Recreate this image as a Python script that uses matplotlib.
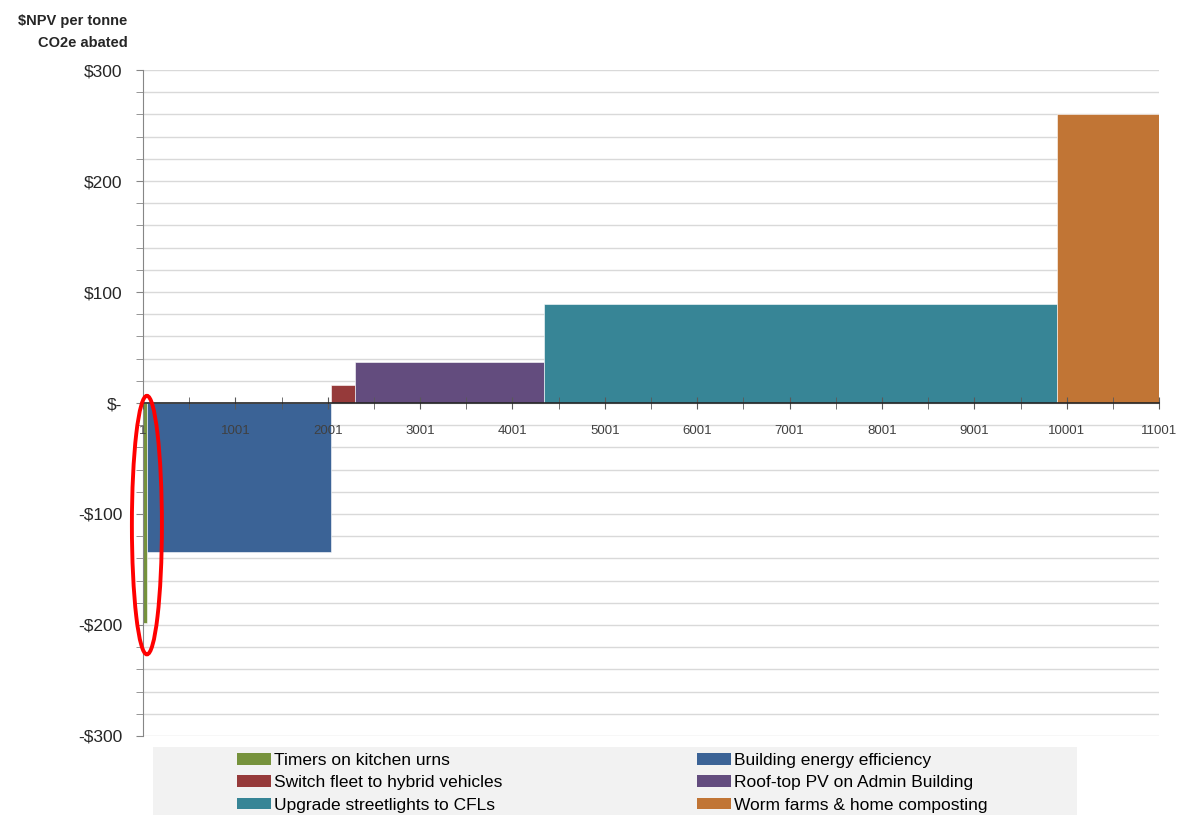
import numpy as np
import matplotlib
matplotlib.use("Agg")
import matplotlib.pyplot as plt
from matplotlib.patches import Ellipse, Patch, Rectangle

# measures on the abatement curve (widths in tonnes CO2e, heights in $NPV/t)
measures = ["Timers on kitchen urns", "Building energy efficiency",
            "Switch fleet to hybrid vehicles", "Roof-top PV on Admin Building",
            "Upgrade streetlights to CFLs", "Worm farms & home composting"]
widths = [40, 2000, 260, 2040, 5560, 1100]
costs = [-198, -134, 16, 37, 89, 260]
colors = ["#76923C", "#3B6396", "#963A3A", "#634C7E", "#378596", "#C17535"]

x_start = 1
x_ticks = np.arange(1, 11002, 1000)
y_ticks = [300, 200, 100, 0, -100, -200, -300]
y_labels = ["$300", "$200", "$100", "$-", "-$100", "-$200", "-$300"]

plt.rcParams['font.family'] = ['Liberation Sans', 'DejaVu Sans']

W, H = 1182, 815
fig = plt.figure(figsize=(W / 100, H / 100), dpi=100)
ax = fig.add_axes([0.121, 0.097, 0.8596, 0.817])
ax.set_axisbelow(False)

lefts = x_start + np.concatenate([[0], np.cumsum(widths)[:-1]])
ax.bar(lefts, costs, width=widths, align='edge', color=colors,
       edgecolor='white', linewidth=0.4, zorder=2)

ax.set_xlim(x_start, x_start + sum(widths))
ax.set_ylim(-300, 300)

# light horizontal grid every 20
for yv in np.arange(-300, 301, 20):
    ax.axhline(yv, color='#D9D9D9', linewidth=1, zorder=0)

ax.spines['top'].set_visible(False)
ax.spines['right'].set_visible(False)
ax.spines['left'].set_color('#868686')
ax.spines['bottom'].set_position(('data', 0))
ax.spines['bottom'].set_color('#262626')
ax.spines['bottom'].set_linewidth(1.2)
ax.spines['bottom'].set_zorder(3)

ax.set_yticks(y_ticks)
ax.set_yticklabels(y_labels, fontsize=12.5, color='#262626')
ax.set_yticks(np.arange(-300, 301, 20), minor=True)
ax.tick_params(axis='y', which='both', direction='out', length=5,
               color='#868686', pad=10)

ax.set_xticks(x_ticks)
ax.set_xticklabels([str(v) for v in x_ticks], fontsize=9.5, color='#404040')
ax.set_xticks(np.arange(501, 11002, 1000), minor=True)
ax.tick_params(axis='x', which='both', direction='inout', length=8,
               color='#595959', pad=12)

fig.text(0.108, 0.983, "$NPV per tonne\nCO2e abated", ha='right', va='top',
         fontsize=10.5, fontweight='bold', color='#262626', linespacing=1.75)

# red ellipse highlighting the thin first measure
ell = Ellipse((43, -110), width=325, height=233, fill=False,
              edgecolor='#FF0000', linewidth=2.8, clip_on=False, zorder=5)
ax.add_patch(ell)

# legend: grey band with two columns
fig.add_artist(Rectangle((153 / W, 0), (1077 - 153) / W, 68 / H,
                         transform=fig.transFigure, facecolor='#F2F2F2',
                         edgecolor='none', zorder=0))
handles = [Patch(facecolor=c, edgecolor='none') for c in colors]
leg_kw = dict(loc='upper left', frameon=False, fontsize=12.5,
              handlelength=1.95, handleheight=0.65, handletextpad=0.2,
              labelspacing=0.42, borderaxespad=0, borderpad=0)
fig.legend(handles[0::2], measures[0::2],
           bbox_to_anchor=(237 / W, 1 - 753 / H), **leg_kw)
fig.legend(handles[1::2], measures[1::2],
           bbox_to_anchor=(697 / W, 1 - 753 / H), **leg_kw)

fig.savefig("out.png", dpi=100)
